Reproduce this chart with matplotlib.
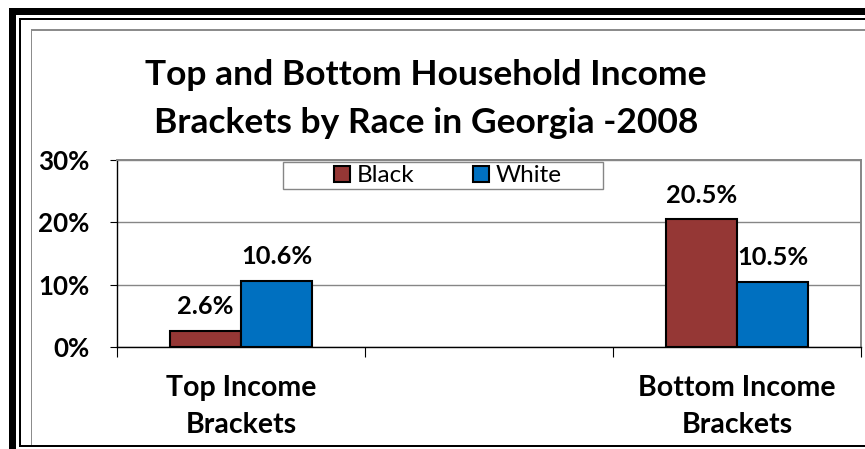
import matplotlib
matplotlib.use("Agg")
import matplotlib.pyplot as plt
from matplotlib.patches import Rectangle
from matplotlib.ticker import FixedLocator
import numpy as np

# ---- data ----
categories = ["Top Income\nBrackets", "", "Bottom Income\nBrackets"]
black_values = [2.6, np.nan, 20.5]
white_values = [10.6, np.nan, 10.5]
series_names = ["Black", "White"]
series_colors = ["#953735", "#0070C0"]
y_ticks = [0, 10, 20, 30]
y_tick_labels = ["0%", "10%", "20%", "30%"]
title_lines = ["Top and Bottom Household Income", "Brackets by Race in Georgia -2008"]

W, H = 865, 449
plt.rcParams['font.family'] = ['Lato', 'DejaVu Sans']
fig = plt.figure(figsize=(W / 100, H / 100), dpi=100)


def px_rect(x0, y0, x1, y1, color, edge="none", lw=0, z=0):
    r = Rectangle((x0 / W, 1 - y1 / H), (x1 - x0) / W, (y1 - y0) / H,
                  transform=fig.transFigure, facecolor=color,
                  edgecolor=edge, linewidth=lw, zorder=z)
    fig.add_artist(r)
    return r


# outer decorative frame
px_rect(9, 8, 16, 449, "black")
px_rect(9, 8, 865, 15, "black")
px_rect(19, 18, 21, 446.5, "black")
px_rect(19, 18, 865, 20, "black")
px_rect(19, 444.5, 865, 446.5, "black")
px_rect(30.5, 29.5, 32, 444.5, "#8c8c8c")
px_rect(30.5, 29.5, 865, 31, "#8c8c8c")

ax = fig.add_axes([117 / W, 1 - 347 / H, (861 - 117) / W, (347 - 160) / H])
ax.set_facecolor("white")

x = np.arange(len(categories))
bw = 0.287
bars_b = ax.bar(x - bw / 2, black_values, bw, color=series_colors[0],
                edgecolor="black", linewidth=1.5, label=series_names[0], zorder=3)
bars_w = ax.bar(x + bw / 2, white_values, bw, color=series_colors[1],
                edgecolor="black", linewidth=1.5, label=series_names[1], zorder=3)

for bars, vals in ((bars_b, black_values), (bars_w, white_values)):
    for b, v in zip(bars, vals):
        if np.isnan(v):
            continue
        ax.annotate(f"{v:.1f}%", (b.get_x() + b.get_width() / 2, v),
                    xytext=(0, 9), textcoords="offset points",
                    ha="center", va="bottom", fontsize=18.3, fontweight="bold")

ax.set_xlim(-0.5, len(categories) - 0.5)
ax.set_ylim(y_ticks[0], y_ticks[-1])
ax.set_yticks(y_ticks)
ax.set_yticklabels(y_tick_labels, fontsize=18.7, fontweight="bold")
ax.set_xticks(x)
ax.set_xticklabels(categories, fontsize=20.5, fontweight="bold", linespacing=1.55)
ax.tick_params(axis="x", which="major", length=0, pad=20)
ax.xaxis.set_minor_locator(FixedLocator(np.arange(len(categories) + 1) - 0.5))
ax.tick_params(axis="x", which="minor", length=7, width=0.8, color="black", direction="out")
ax.tick_params(axis="y", length=5, width=0.8, color="black", direction="out", pad=15)

ax.grid(axis="y", color="#868686", linewidth=1.0, zorder=0)
ax.set_axisbelow(True)
for s in ("top", "right"):
    ax.spines[s].set_color("#868686")
    ax.spines[s].set_linewidth(1.4)
for s in ("left", "bottom"):
    ax.spines[s].set_color("black")
    ax.spines[s].set_linewidth(1.0)
ax.spines["bottom"].set_zorder(4)

# legend box frame drawn separately, legend content centered in it
px_rect(283, 162, 603, 189, "white", edge="#868686", lw=1.0, z=5)
leg = fig.legend(handles=[bars_b, bars_w], labels=series_names,
                 loc="center", bbox_to_anchor=(448 / W, 1 - 176 / H),
                 ncol=2, fontsize=17.5, frameon=False,
                 handlelength=0.65, handleheight=0.65,
                 handletextpad=0.3, borderpad=0.0, borderaxespad=0, columnspacing=2.4)
leg.set_zorder(6)

# title: two lines placed by baseline
for line, base in zip(title_lines, (85, 133)):
    fig.text(426 / W, 1 - base / H, line, ha="center", va="baseline",
             fontsize=25.5, fontweight="bold")

fig.savefig("out.png", dpi=100)
